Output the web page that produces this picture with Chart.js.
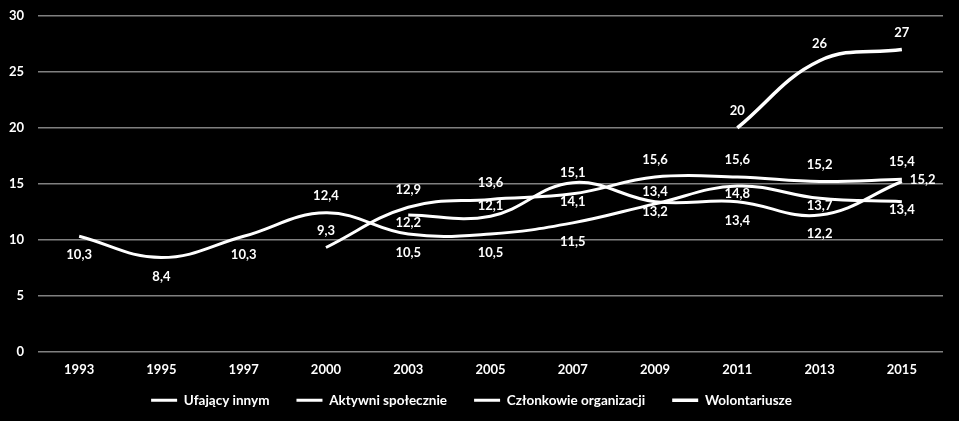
<!DOCTYPE html>
<html><head><meta charset="utf-8">
<script src="https://cdn.jsdelivr.net/npm/chart.js@4/dist/chart.umd.min.js"></script>
<style>html,body{margin:0;padding:0;background:#000;overflow:hidden;}#wrap{width:959px;height:421px;}</style>
</head><body><div id="wrap"><canvas id="c" width="959" height="421"></canvas></div>
<script>
const categories = ['1993','1995','1997','2000','2003','2005','2007','2009','2011','2013','2015'];
const ufajacy = [10.3, 8.4, 10.3, 12.4, 10.5, 10.5, 11.5, 13.2, 14.8, 13.7, 13.4];
const aktywni = [null, null, null, 9.3, 12.9, 13.6, 14.1, 15.6, 15.6, 15.2, 15.4];
const czlonkowie = [null, null, null, null, 12.2, 12.1, 15.1, 13.4, 13.4, 12.2, 15.2];
const wolontariusze = [null, null, null, null, null, null, null, null, 20, 26, 27];
const seriesNames = ['Ufający innym', 'Aktywni społecznie', 'Członkowie organizacji', 'Wolontariusze'];
const yMin = 0, yMax = 30, yStep = 5;

// label placement codes: a = above, u = slightly above, c = slightly below, b = below, r = right
const labelPlacement = [
  ['b','b','b','a','b','b','b','c','c','c','c'],
  [null,null,null,'a','a','a','c','a','a','a','a'],
  [null,null,null,null,'c','u','u','u','b','b','r'],
  [null,null,null,null,null,null,null,null,'a','a','a']
];
const FONT = 'Lato';

const labelPlugin = {
  id: 'valueLabels',
  afterDatasetsDraw(chart) {
    const ctx = chart.ctx;
    ctx.save();
    ctx.font = 'bold 13px ' + FONT;
    ctx.fillStyle = '#ffffff';
    ctx.textBaseline = 'middle';
    chart.data.datasets.forEach((ds, di) => {
      const meta = chart.getDatasetMeta(di);
      meta.data.forEach((el, i) => {
        const v = ds.data[i];
        if (v === null || v === undefined) return;
        const p = labelPlacement[di][i] || 'a';
        const txt = String(v).replace('.', ',');
        let x = el.x, y = el.y;
        ctx.textAlign = 'center';
        if (p === 'a') y -= 17;
        else if (p === 'u') y -= 10;
        else if (p === 'c') y += 8;
        else if (p === 'b') y += 19;
        else if (p === 'r') { ctx.textAlign = 'left'; x += 8; y -= 2; }
        ctx.fillText(txt, x, y);
      });
    });
    ctx.restore();
  }
};

function mk(label, data, w) {
  return {label, data, borderColor: '#ffffff', backgroundColor: '#ffffff', borderWidth: w,
    pointRadius: 0, pointHoverRadius: 0, tension: 0.4, fill: false, spanGaps: false};
}

function draw() {
  new Chart(document.getElementById('c'), {
    type: 'line',
    data: {
      labels: categories,
      datasets: [
        mk(seriesNames[0], ufajacy, 3),
        mk(seriesNames[1], aktywni, 3),
        mk(seriesNames[2], czlonkowie, 3),
        mk(seriesNames[3], wolontariusze, 3.5)
      ]
    },
    options: {
      responsive: false,
      animation: false,
      events: [],
      layout: {padding: {top: 16, right: 16, left: 0, bottom: 4}},
      scales: {
        x: {
          offset: true,
          grid: {display: false, drawTicks: false},
          border: {display: false},
          ticks: {color: '#ffffff', font: {family: FONT, size: 13, weight: 'bold'}, padding: 11, maxRotation: 0},
          afterFit(s) { s.height = 15; s._computeLabelArea = function () { return null; }; }
        },
        y: {
          min: yMin, max: yMax,
          ticks: {stepSize: yStep, color: '#ffffff', font: {family: FONT, size: 13, weight: 'bold'}, padding: 14},
          grid: {color: '#808080', lineWidth: 1.5, drawTicks: false},
          border: {display: false},
          afterFit(s) { s.width = 38; s.paddingTop = 0; s.paddingBottom = 0; }
        }
      },
      plugins: {
        legend: {
          position: 'bottom',
          labels: {
            color: '#ffffff',
            font: {family: FONT, size: 13.5, weight: 'bold'},
            usePointStyle: true,
            pointStyle: 'line',
            pointStyleWidth: 26,
            padding: 27
          }
        },
        tooltip: {enabled: false}
      }
    },
    plugins: [labelPlugin]
  });
}
if (document.fonts && document.fonts.load) {
  document.fonts.load('bold 13px ' + FONT).then(draw, draw);
} else { draw(); }
</script>
</body></html>
